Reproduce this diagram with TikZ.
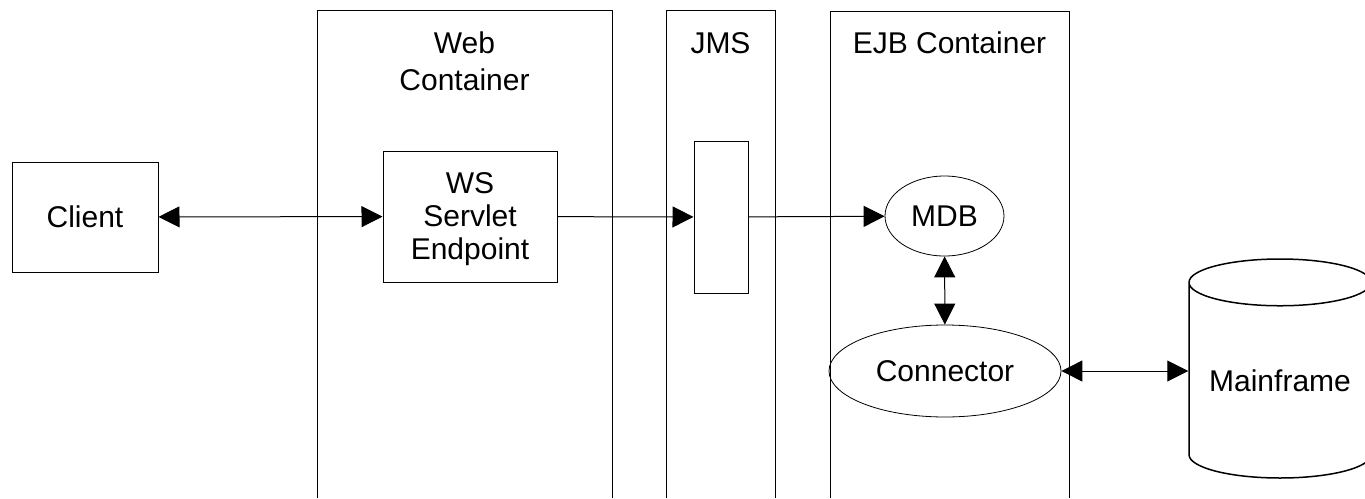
\documentclass[tikz,border=0pt]{standalone}
\usepackage{fontspec}
\setmainfont{Liberation Sans}
\usetikzlibrary{arrows.meta,shapes.geometric}
\tikzset{
  box/.style={draw,line width=1pt,inner sep=0pt},
  oval/.style={draw,ellipse,line width=0.8pt,inner sep=0pt},
  tip/.style={-{Triangle[length=21pt,width=21pt]}},
  twoway/.style={{Triangle[length=21pt,width=21pt]}-{Triangle[length=21pt,width=21pt]}},
}
\begin{document}
\begin{tikzpicture}[x=1pt,y=-1pt,line width=1pt,
    every node/.style={font=\fontsize{30}{35}\selectfont,align=center}]
    \useasboundingbox (0,0) rectangle (1365,498);

    \draw (317,498) -- (317,10) -- (612,10) -- (612,498);
    \draw (666,498) -- (666,10) -- (775,10) -- (775,498);
    \draw (830,498) -- (830,11) -- (1069,11) -- (1069,498);

    \node[anchor=base,font=\fontsize{30}{37}\selectfont] (weblabel) at (464.5,90) {Web\\Container};
    \node[anchor=base] (jmslabel) at (720.5,53) {JMS};
    \node[anchor=base] (ejblabel) at (949.5,53) {EJB Container};

    \node[box,minimum width=146pt,minimum height=110pt] (client) at (85,217) {Client};
    \node[box,minimum width=174pt,minimum height=131pt,text depth=0pt,
          font=\fontsize{30}{33}\selectfont] (endpoint) at (470,216.5) {WS\\Servlet\\Endpoint};
    \node[box,minimum width=54pt,minimum height=152pt] (queue) at (721,217) {};
    \node[oval,minimum width=119pt,minimum height=80pt] (mdb) at (944.5,216) {MDB};
    \node[oval,minimum width=232pt,minimum height=92pt] (connector) at (945,371) {Connector};
    \node[draw,cylinder,shape border rotate=90,aspect=0.33,line width=1.5pt,anchor=shape center,
          minimum width=182pt,minimum height=219pt,inner sep=0pt] (mainframe) at (1280,368.5) {Mainframe};

    \draw[twoway] (client) -- (endpoint);
    \draw[tip] (endpoint) -- (queue);
    \draw[tip] (queue) -- (mdb);
    \draw[twoway] (mdb) -- (connector);
    \draw[twoway] (connector.east) -- (connector.east -| mainframe.west);
\end{tikzpicture}
\end{document}
